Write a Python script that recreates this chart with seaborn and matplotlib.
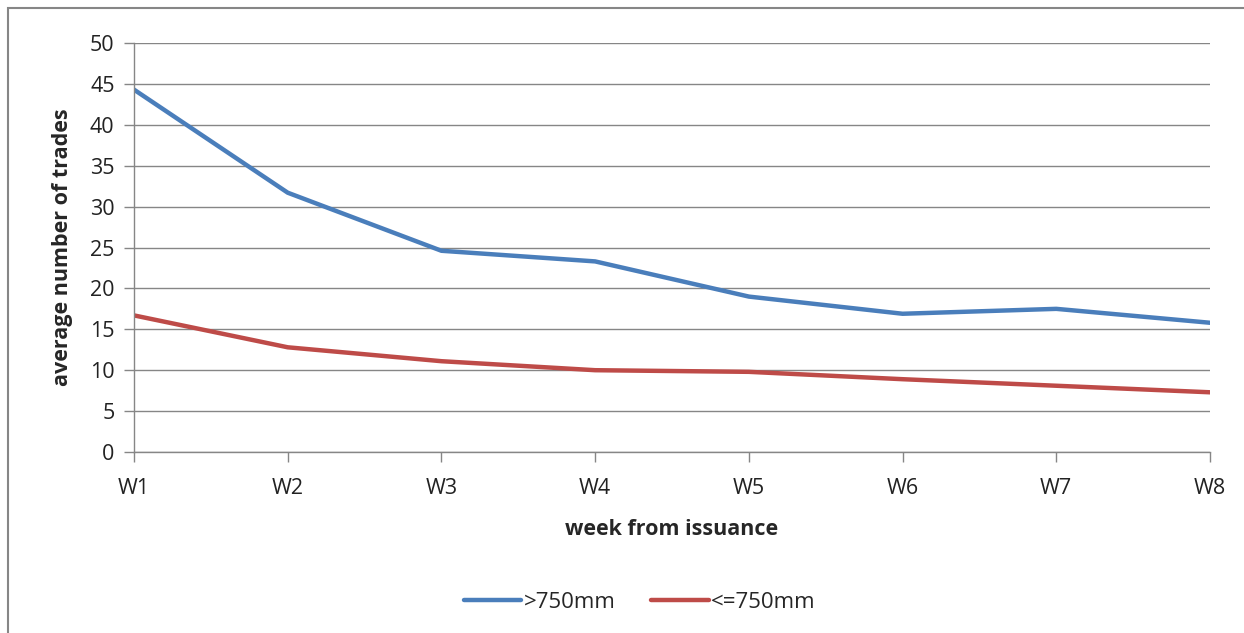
import pandas as pd
import numpy as np
import matplotlib
matplotlib.use("Agg")
import matplotlib.pyplot as plt
import seaborn as sns

weeks = ["W1", "W2", "W3", "W4", "W5", "W6", "W7", "W8"]
big = [44.3, 31.7, 24.6, 23.3, 19.0, 16.9, 17.5, 15.8]
small = [16.7, 12.8, 11.1, 10.0, 9.8, 8.9, 8.1, 7.3]
series_names = [">750mm", "<=750mm"]

df = pd.DataFrame({
    "week": weeks * 2,
    "trades": big + small,
    "size": [series_names[0]] * len(weeks) + [series_names[1]] * len(weeks),
})
df["pos"] = df["week"].map({w: i for i, w in enumerate(weeks)})

sns.set_style("white")
plt.rcParams["font.family"] = ["Open Sans", "DejaVu Sans"]

fig = plt.figure(figsize=(12.44, 6.33), dpi=100)
ax = fig.add_axes([134 / 1244, 1 - 452 / 633, (1210 - 134) / 1244, (452 - 43) / 633])

gray = "#868686"
sns.lineplot(data=df, x="pos", y="trades", hue="size", ax=ax,
             palette=["#4A7EBB", "#BE4B48"], linewidth=3.2, legend=True)

ax.set_xlim(0, len(weeks) - 1)
ax.set_ylim(0, 50)
ax.set_yticks(range(0, 51, 5))
ax.set_xticks(range(len(weeks)))
ax.set_xticklabels(weeks)
ax.grid(axis="y", color=gray, linewidth=1)
ax.tick_params(axis="both", labelsize=15.5, colors="#222222", length=7, width=1,
               direction="out", color=gray, bottom=True, left=True)
ax.tick_params(axis="y", pad=7)
ax.tick_params(axis="x", pad=12)
for side in ["top", "right"]:
    ax.spines[side].set_visible(False)
for side in ["left", "bottom"]:
    ax.spines[side].set_color(gray)
    ax.spines[side].set_linewidth(1)

ax.set_xlabel("week from issuance", fontsize=15.5, fontweight="bold", labelpad=14)
ax.set_ylabel("average number of trades", fontsize=15.5, fontweight="bold", labelpad=12)

leg = ax.legend(loc="center", bbox_to_anchor=(0.47, -0.368), ncol=2, frameon=False,
                fontsize=16, handlelength=2.6, columnspacing=1.6, handletextpad=0.1)

# outer chart border
fig.patches.append(plt.Rectangle((8 / 1244, -0.05), 1.2, 1 - 8 / 633 + 0.05,
                                 transform=fig.transFigure, fill=False,
                                 edgecolor=gray, linewidth=1.5))

fig.savefig("out.png", dpi=100)
